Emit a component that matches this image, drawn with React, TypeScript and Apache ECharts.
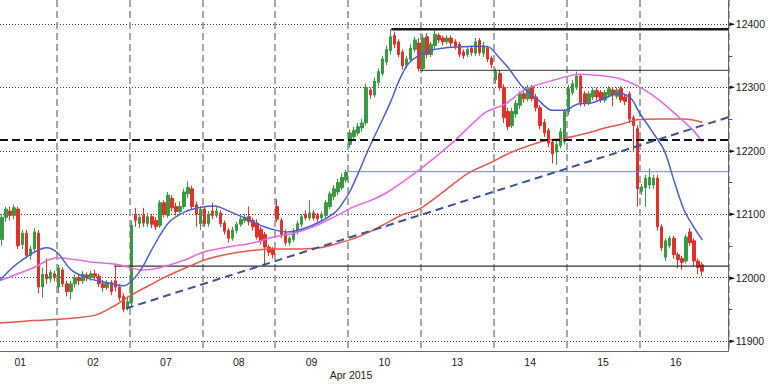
import React, { useEffect, useRef } from 'react';
import * as echarts from 'echarts';

// ---- axis / calendar data ----
const dayLabels = ['01', '02', '07', '08', '09', '10', '13', '14', '15', '16'];
const SLOTS_PER_DAY = 18;
const DAY01_HIDDEN = 4; // slots of day 01 before the left edge
const TOTAL_SLOTS = 180;
const yMin = 11884;
const yMax = 12438;
const yStep = 50;

// ---- hourly candles [open, close, low, high] ----
const day01 = [
  [12060, 12095, 12050, 12100], [12095, 12108, 12088, 12112], [12105, 12098, 12090, 12112],
  [12098, 12110, 12092, 12115], [12108, 12050, 12045, 12112], [12052, 12070, 12045, 12075],
  [12070, 12035, 12030, 12075], [12035, 12045, 12028, 12050], [12045, 12072, 12040, 12078],
  [12070, 11985, 11975, 12075], [11985, 12005, 11968, 12015], [12005, 11998, 11990, 12030],
  [11998, 12008, 11992, 12012], [12006, 12000, 11994, 12010],
];
const day02 = [
  [11985, 12015, 11975, 12020], [12012, 11990, 11985, 12016], [11990, 11978, 11970, 11995],
  [11978, 11990, 11965, 11995], [11990, 12000, 11984, 12005], [12000, 11995, 11988, 12006],
  [11995, 12005, 11990, 12010], [12004, 12000, 11994, 12008], [12000, 12006, 11995, 12010],
  [12006, 12002, 11996, 12012], [12002, 11990, 11985, 12006], [11990, 11984, 11978, 11996],
  [11984, 11992, 11980, 11996], [11992, 11978, 11972, 11996], [11995, 11985, 11978, 12018],
  [11985, 11968, 11963, 11990], [11970, 11950, 11945, 11975], [11952, 11962, 11948, 11970],
];
const day07 = [
  [11960, 12082, 11955, 12090], [12100, 12090, 12080, 12110], [12085, 12095, 12078, 12100],
  [12098, 12086, 12080, 12110], [12085, 12096, 12080, 12102], [12096, 12084, 12078, 12100],
  [12090, 12080, 12075, 12095], [12082, 12118, 12078, 12122], [12118, 12100, 12095, 12122],
  [12098, 12130, 12094, 12135], [12125, 12110, 12105, 12130], [12112, 12104, 12098, 12118],
  [12104, 12112, 12100, 12120], [12112, 12135, 12108, 12140], [12132, 12142, 12125, 12152],
  [12140, 12112, 12108, 12145], [12115, 12100, 12080, 12120], [12085, 12108, 12075, 12112],
];
const day08 = [
  [12108, 12085, 12080, 12112], [12085, 12100, 12080, 12105], [12105, 12098, 12092, 12118],
  [12098, 12105, 12094, 12112], [12102, 12085, 12080, 12106], [12086, 12073, 12068, 12090],
  [12074, 12062, 12055, 12078], [12062, 12075, 12058, 12080], [12074, 12084, 12070, 12088],
  [12084, 12092, 12080, 12096], [12090, 12095, 12086, 12100], [12096, 12088, 12082, 12112],
  [12090, 12080, 12074, 12094], [12086, 12064, 12060, 12092], [12076, 12058, 12052, 12080],
  [12068, 12048, 12018, 12072], [12048, 12040, 12034, 12052], [12045, 12036, 12030, 12048],
];
const day09 = [
  [12112, 12092, 12088, 12124], [12090, 12068, 12062, 12094], [12070, 12055, 12050, 12076],
  [12055, 12062, 12050, 12066], [12060, 12073, 12056, 12078], [12072, 12085, 12068, 12090],
  [12084, 12096, 12080, 12100], [12100, 12094, 12090, 12106], [12094, 12102, 12090, 12122],
  [12102, 12094, 12090, 12106], [12098, 12093, 12088, 12102], [12094, 12100, 12090, 12104],
  [12098, 12118, 12094, 12122], [12112, 12132, 12108, 12136], [12128, 12140, 12122, 12146],
  [12135, 12150, 12130, 12156], [12142, 12158, 12138, 12164], [12154, 12166, 12150, 12170],
];
const day10 = [
  [12210, 12228, 12205, 12234], [12222, 12232, 12216, 12238], [12228, 12238, 12224, 12244],
  [12236, 12244, 12230, 12250], [12244, 12300, 12240, 12306], [12296, 12288, 12282, 12300],
  [12288, 12310, 12284, 12316], [12308, 12325, 12302, 12330], [12322, 12345, 12318, 12350],
  [12340, 12360, 12335, 12366], [12358, 12380, 12352, 12392], [12382, 12368, 12362, 12388],
  [12372, 12352, 12348, 12376], [12356, 12334, 12328, 12360], [12335, 12345, 12330, 12350],
  [12344, 12362, 12340, 12368], [12360, 12375, 12355, 12380], [12370, 12330, 12325, 12378],
];
const day13 = [
  [12330, 12378, 12325, 12384], [12380, 12352, 12346, 12386], [12352, 12368, 12348, 12372],
  [12366, 12384, 12360, 12390], [12382, 12375, 12370, 12386], [12378, 12372, 12366, 12382],
  [12372, 12378, 12368, 12382], [12378, 12370, 12364, 12382], [12372, 12365, 12360, 12376],
  [12368, 12352, 12348, 12372], [12356, 12350, 12345, 12360], [12352, 12360, 12348, 12364],
  [12362, 12355, 12350, 12366], [12354, 12372, 12350, 12378], [12374, 12355, 12350, 12378],
  [12354, 12366, 12348, 12372], [12362, 12345, 12340, 12366], [12346, 12336, 12330, 12350],
];
const day14 = [
  [12312, 12325, 12306, 12330], [12322, 12300, 12295, 12328], [12300, 12252, 12244, 12305],
  [12262, 12238, 12232, 12268], [12240, 12262, 12236, 12268], [12258, 12275, 12252, 12280],
  [12272, 12290, 12266, 12294], [12290, 12282, 12276, 12296], [12282, 12300, 12278, 12304],
  [12300, 12282, 12278, 12304], [12285, 12268, 12262, 12290], [12268, 12240, 12234, 12272],
  [12245, 12228, 12222, 12250], [12232, 12212, 12206, 12236], [12214, 12195, 12180, 12218],
  [12198, 12210, 12178, 12216], [12208, 12230, 12204, 12236], [12214, 12262, 12210, 12266],
];
const day15 = [
  [12262, 12298, 12256, 12304], [12292, 12306, 12288, 12312], [12300, 12318, 12296, 12325],
  [12318, 12276, 12270, 12322], [12290, 12276, 12270, 12294], [12276, 12290, 12272, 12294],
  [12285, 12295, 12280, 12300], [12295, 12285, 12280, 12300], [12292, 12280, 12276, 12296],
  [12280, 12292, 12276, 12296], [12288, 12298, 12284, 12302], [12296, 12288, 12270, 12300],
  [12286, 12296, 12282, 12300], [12298, 12280, 12276, 12302], [12285, 12278, 12272, 12290],
  [12290, 12250, 12244, 12294], [12252, 12240, 12200, 12256], [12235, 12140, 12112, 12240],
];
const day16 = [
  [12136, 12143, 12130, 12148], [12142, 12157, 12112, 12162], [12146, 12158, 12140, 12172],
  [12146, 12157, 12140, 12162], [12157, 12080, 12074, 12162], [12080, 12047, 12042, 12084],
  [12032, 12058, 12026, 12062], [12050, 12062, 12046, 12066], [12062, 12036, 12030, 12066],
  [12036, 12028, 12015, 12040], [12030, 12024, 12012, 12034], [12026, 12064, 12022, 12068],
  [12072, 12055, 12050, 12078], [12058, 12026, 12018, 12062], [12026, 12016, 12005, 12030],
  [12020, 12010, 12002, 12024],
];
const candleDays = [day01, day02, day07, day08, day09, day10, day13, day14, day15, day16];

// ---- moving averages: [slot position, value] ----
const maFast = [
  [0, 11996], [4.9, 12025], [11.5, 12047], [14.2, 12039], [17.6, 12012], [21.6, 11999],
  [25.7, 11993], [30.6, 11987], [32.6, 11995], [35.0, 12014], [37.5, 12044], [41.6, 12086],
  [45.8, 12104], [49.7, 12111], [53.1, 12113], [56.8, 12104], [61.2, 12092], [64.9, 12081],
  [68.6, 12074], [71.0, 12072], [74.9, 12077], [79.1, 12088], [83.0, 12104], [84.7, 12118],
  [86.4, 12135], [88.9, 12170], [91.3, 12206], [94.5, 12249], [96.7, 12280], [98.7, 12312],
  [101.1, 12339], [105.3, 12356], [109.5, 12362], [113.4, 12364], [117.6, 12365], [120.7, 12364],
  [123.2, 12348], [125.6, 12331], [129.1, 12301], [133.0, 12280], [136.4, 12264], [139.6, 12264],
  [142.8, 12274], [145.7, 12275], [149.4, 12283], [153.1, 12291], [156.0, 12282], [158.0, 12260],
  [160.9, 12233], [164.1, 12201], [166.5, 12154], [169.0, 12107], [171.4, 12080], [173.6, 12059],
];
const maMid = [
  [0, 11995], [8.1, 12015], [14.0, 12031], [22.0, 12025], [28.7, 12021], [31.3, 12017],
  [35.0, 12012], [39.2, 12015], [45.8, 12028], [50.2, 12040], [56.3, 12048], [62.7, 12055],
  [67.6, 12064], [72.5, 12070], [77.4, 12080], [83.0, 12097], [87.2, 12111], [91.3, 12121],
  [95.3, 12133], [103.6, 12170], [111.7, 12212], [119.8, 12260], [124.9, 12274], [129.8, 12297],
  [137.1, 12312], [143.3, 12321], [149.4, 12318], [153.6, 12313], [158.0, 12301], [162.9, 12280],
  [167.8, 12253], [171.2, 12233], [173.6, 12214],
];
const maSlow = [
  [0, 11928], [8.1, 11932], [16.4, 11935], [23.8, 11941], [28.7, 11957], [32.6, 11973],
  [36.7, 11987], [40.9, 12001], [45.8, 12015], [50.7, 12028], [55.6, 12036], [61.2, 12042],
  [67.6, 12045], [72.5, 12045], [79.1, 12047], [83.0, 12053], [87.2, 12061], [91.3, 12072],
  [95.3, 12085], [99.4, 12099], [103.6, 12108], [108.5, 12130], [115.8, 12165], [121.5, 12182],
  [125.4, 12195], [129.8, 12206], [134.7, 12216], [139.6, 12220], [145.2, 12228], [149.4, 12236],
  [153.6, 12242], [157.5, 12249], [162.9, 12250], [169.0, 12250], [173.6, 12245],
];

// ---- drawn studies ----
const trendLine = [[31.1, 11951], [180, 12253]];
const pivotLevel = 12217;
const levelStarts = [96.7, 103.8, 86, 28.2];
const levelValues = [12392, 12327, 12167, 12018];

// ---- build categories ----
const categories: string[] = [];
const candles: number[][] = [];
const boundaryIdx = new Set<number>();
const labelAt = new Map<number, string>();
candleDays.forEach((d, di) => {
  const start = di === 0 ? -DAY01_HIDDEN : (SLOTS_PER_DAY - DAY01_HIDDEN) + (di - 1) * SLOTS_PER_DAY;
  if (di > 0) boundaryIdx.add(start);
  labelAt.set(start + 9, dayLabels[di]);
  d.forEach((c) => candles.push(c));
});
for (let i = 0; i < TOTAL_SLOTS; i++) categories.push('s' + i);

const FONT = '"Liberation Sans", Arial, sans-serif';
const levelStyles = [
  { color: '#1a1a1a', width: 2.5 },
  { color: '#333333', width: 1 },
  { color: '#6f80e0', width: 1 },
  { color: '#333333', width: 1.2 },
];

export default function App() {
  const ref = useRef<HTMLDivElement>(null);
  useEffect(() => {
    const chart = echarts.init(ref.current!, null, { renderer: 'svg' });
    const levelSeries = levelValues.map((v, i) => ({
      type: 'line',
      xAxisIndex: 1,
      data: [[levelStarts[i], v], [TOTAL_SLOTS, v]],
      symbol: 'none',
      silent: true,
      lineStyle: levelStyles[i],
      z: 3,
    }));
    const option: any = {
      animation: false,
      backgroundColor: '#ffffff',
      grid: { left: 0, right: 33, top: 0, bottom: 33 },
      xAxis: [
        {
          type: 'category',
          data: categories,
          boundaryGap: true,
          axisLine: { show: true, onZero: false, lineStyle: { color: '#666', width: 1 } },
          axisTick: { show: false },
          axisLabel: {
            interval: (i: number) => labelAt.has(i),
            formatter: (_v: string, i: number) => labelAt.get(i) || '',
            color: '#222',
            fontSize: 10.5,
            fontFamily: FONT,
            margin: 5,
            padding: [0, 4, 0, 0],
          },
          splitLine: {
            show: true,
            interval: (i: number) => boundaryIdx.has(i),
            lineStyle: { color: '#8c8c8c', width: 1.5, type: [7, 4] },
          },
        },
        {
          type: 'value', min: 0, max: TOTAL_SLOTS, show: false,
          axisLine: { onZero: false }, splitLine: { show: false },
        },
      ],
      yAxis: {
        type: 'value',
        position: 'right',
        min: yMin,
        max: yMax,
        splitNumber: 11,
        minInterval: yStep,
        maxInterval: yStep,
        axisLine: { show: true, onZero: false, lineStyle: { color: '#666', width: 1 } },
        axisTick: { show: true, inside: false, length: 4, lineStyle: { color: '#555' } },
        axisLabel: {
          showMinLabel: false,
          showMaxLabel: false,
          margin: 1,
          formatter: (v: number) => (v % 100 === 0 ? `{t|►}{v|${v}}` : ''),
          rich: {
            t: { fontSize: 7, color: '#111', fontFamily: 'DejaVu Sans', padding: [0, 1, 0, 0] },
            v: { fontSize: 10.5, color: '#222', fontFamily: FONT },
          },
        },
        splitLine: { show: true, lineStyle: { color: ['transparent', '#444'], width: 1, type: [1, 2] } },
      },
      graphic: [
        {
          type: 'text',
          x: 351,
          y: 369,
          style: { text: 'Apr 2015', fill: '#222', font: '10.5px "Liberation Sans", Arial, sans-serif', textAlign: 'center', textVerticalAlign: 'top' },
        },
      ],
      series: [
        {
          type: 'candlestick',
          xAxisIndex: 0,
          data: candles,
          barWidth: 3,
          itemStyle: { color: '#3a9a44', color0: '#e2302a', borderColor: '#3a9a44', borderColor0: '#e2302a', borderWidth: 1 },
          z: 2,
        },
        {
          type: 'line', xAxisIndex: 1, data: maSlow, smooth: 0.3, symbol: 'none', silent: true,
          lineStyle: { color: '#e5574f', width: 1.5 }, z: 4,
        },
        {
          type: 'line', xAxisIndex: 1, data: maMid, smooth: 0.3, symbol: 'none', silent: true,
          lineStyle: { color: '#e56ae2', width: 1.5 }, z: 4,
        },
        {
          type: 'line', xAxisIndex: 1, data: maFast, smooth: 0.3, symbol: 'none', silent: true,
          lineStyle: { color: '#4b5fd0', width: 1.5 }, z: 4,
        },
        ...levelSeries,
        {
          type: 'line', xAxisIndex: 1, data: [[0, pivotLevel], [TOTAL_SLOTS, pivotLevel]], symbol: 'none', silent: true,
          lineStyle: { color: '#111', width: 2, type: [8, 4] }, z: 5,
        },
        {
          type: 'line', xAxisIndex: 1, data: trendLine, symbol: 'none', silent: true,
          lineStyle: { color: '#3b5590', width: 2, type: [8, 5] }, z: 5,
        },
      ],
    };
    chart.setOption(option);
    return () => chart.dispose();
  }, []);
  return (
    <div
      ref={ref}
      style={{ position: 'fixed', left: 0, top: 0, width: 768, height: 384, background: '#fff' }}
    />
  );
}
